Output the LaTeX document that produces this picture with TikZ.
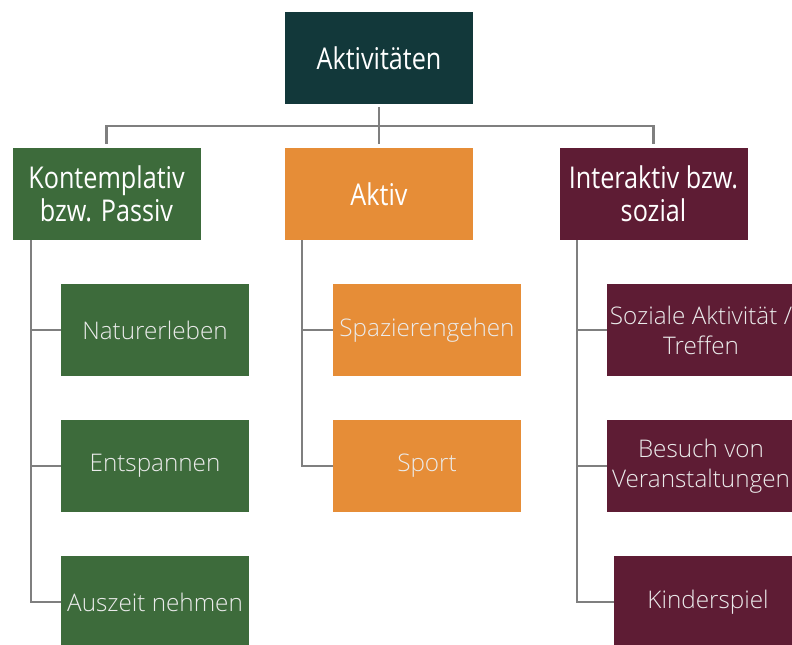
\documentclass[tikz,border=0pt]{standalone}
\usepackage{fontspec}
\setmainfont{Open Sans}
\newfontfamily\headfont[FakeStretch=0.84]{Open Sans}
\newfontfamily\lightfont{Open Sans Light}
\usetikzlibrary{calc}
\definecolor{roottc}{HTML}{12383A}
\definecolor{greenc}{HTML}{3D6B3B}
\definecolor{orangec}{HTML}{E68D37}
\definecolor{purplec}{HTML}{5E1C34}
\definecolor{linec}{HTML}{7F7F7F}
\begin{document}
\begin{tikzpicture}[x=0.75pt,y=-0.75pt,
  box/.style={draw=none,minimum width=141pt,minimum height=69pt,inner sep=0pt,align=center,text=white},
  headbox/.style={box,font=\headfont\fontsize{22.5}{24.5}\selectfont},
  childbox/.style={box,font=\lightfont\fontsize{18.2}{22.5}\selectfont,text=white!92!black},
  conn/.style={draw=linec,line width=2.2pt}]
\useasboundingbox (0,0) rectangle (792,644);
\clip (0,0) rectangle (792,644);
% level 0
\node[headbox,fill=roottc] (root) at (379,58) {Aktivitäten};
% level 1
\node[headbox,fill=greenc] (k1) at (106.5,194) {Kontemplativ\\bzw. Passiv};
\node[headbox,fill=orangec] (k2) at (379,194) {Aktiv};
\node[headbox,fill=purplec] (k3) at (653.5,194) {Interaktiv bzw.\\sozial};
% level 2
\node[childbox,fill=greenc] (c11) at (155,330) {Naturerleben};
\node[childbox,fill=greenc] (c12) at (155,466) {Entspannen};
\node[childbox,fill=greenc] (c13) at (155,602) {Auszeit nehmen};
\node[childbox,fill=orangec] (c21) at (427,330) {Spazierengehen};
\node[childbox,fill=orangec] (c22) at (427,466) {Sport};
\node[childbox,fill=purplec] (c31) at (701,330) {Soziale Aktivität /\\Treffen};
\node[childbox,fill=purplec] (c32) at (701,466) {Besuch von\\Veranstaltungen};
\node[childbox,fill=purplec] (c33) at (708,602) {Kinderspiel};
% connectors
\coordinate (bus) at (379,126);
\draw[conn,shorten <=2pt] (root.south) -- (bus);
\draw[conn,shorten <=3pt] (k1.north) |- (bus);
\draw[conn,shorten <=3pt] (k3.north) |- (bus);
\draw[conn,shorten <=3pt] (k2.north) -- (bus);
\coordinate (s1) at (31,240);
\coordinate (s2) at (302,240);
\coordinate (s3) at (577,240);
\draw[conn] (s1) |- (c11.west);
\draw[conn] (s1) |- (c12.west);
\draw[conn] (s1) |- (c13.west);
\draw[conn] (s2) |- (c21.west);
\draw[conn] (s2) |- (c22.west);
\draw[conn] (s3) |- (c31.west);
\draw[conn] (s3) |- (c32.west);
\draw[conn] (s3) |- (c33.west);
\end{tikzpicture}
\end{document}
